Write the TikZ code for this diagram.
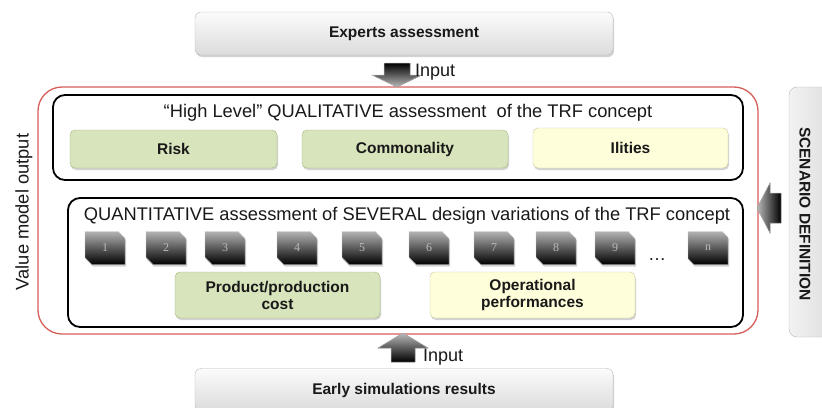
\documentclass[tikz,border=0pt]{standalone}
\usepackage{fontspec}
\setmainfont{Liberation Sans}
\newfontfamily\numfont{Liberation Serif}
\usetikzlibrary{shapes.misc,shadows}

\definecolor{redline}{RGB}{215,95,90}
\definecolor{greenfill}{RGB}{215,228,188}
\definecolor{greenline}{RGB}{165,185,125}
\definecolor{yellowfill}{RGB}{255,254,218}
\definecolor{yellowline}{RGB}{200,200,160}
\definecolor{txt}{RGB}{25,25,25}

\tikzset{
  softshadow/.style={drop shadow={opacity=0.35, shadow xshift=1pt, shadow yshift=-2pt}},
  greybox/.style={rectangle, rounded corners=6pt, draw=gray!55, top color=gray!3,
    bottom color=gray!28, inner sep=0pt, text=txt, softshadow,
    font=\bfseries\fontsize{15.5}{17}\selectfont},
  greenbox/.style={rectangle, rounded corners=5pt, draw=greenline, fill=greenfill,
    inner sep=0pt, text=txt, softshadow, align=center,
    font=\bfseries\fontsize{15.5}{17}\selectfont},
  yellowbox/.style={greenbox, draw=yellowline, fill=yellowfill},
  framebox/.style={rectangle, rounded corners=12pt, draw=black, line width=1.8pt},
  title/.style={text=txt, inner sep=0pt, font=\fontsize{18.3}{20}\selectfont},
  variant/.style={chamfered rectangle, chamfered rectangle corners={north east, south west},
    chamfered rectangle xsep=6pt, chamfered rectangle ysep=6pt,
    minimum width=40pt, minimum height=33pt, inner sep=0pt,
    draw=gray!45, top color=gray!60, bottom color=black, text=gray!55,
    softshadow, font=\numfont\fontsize{12}{13}\selectfont},
  blockarrow/.style={draw=gray!60, line width=0.5pt},
}

\begin{document}
\begin{tikzpicture}[x=1pt,y=-1pt]
  \clip (0,0) rectangle (822,407);
  \fill[white] (0,0) rectangle (822,407);

  % sources of input
  \node[greybox, minimum width=418pt, minimum height=43pt] (experts) at (404,33.5) {Experts assessment};
  \node[greybox, minimum width=418pt, minimum height=43pt] (early) at (404,390) {Early simulations results};

  % scenario definition side bar
  \node[rectangle, rounded corners=8pt, draw=gray!55, left color=gray!10, right color=gray!32,
        minimum width=60pt, minimum height=250pt, inner sep=0pt] (scenario) at (819,212) {};
  \node[rotate=-90, text=txt, font=\bfseries\fontsize{15.5}{17}\selectfont] (scenlabel) at (805,214) {SCENARIO DEFINITION};

  % value model frame
  \node[rectangle, rounded corners=24pt, draw=redline, line width=1.3pt,
        minimum width=720pt, minimum height=247pt, inner sep=0pt] (valuemodel) at (398,210.5) {};
  \node[rotate=90, title] (vmlabel) at (24,212) {Value model output};

  % qualitative assessment
  \node[framebox, minimum width=690pt, minimum height=85pt] (quali) at (398,137.5) {};
  \node[title] (qualititle) at (408,113) {“High Level” QUALITATIVE assessment\ \ of the TRF concept};
  \node[greenbox, minimum width=207pt, minimum height=38pt] (risk) at (173.5,149) {Risk};
  \node[greenbox, minimum width=206pt, minimum height=38pt] (common) at (405,149) {Commonality};
  \node[yellowbox, minimum width=195pt, minimum height=40pt] (ilities) at (630.5,148) {Ilities};

  % quantitative assessment
  \node[framebox, minimum width=675pt, minimum height=129pt] (quanti) at (405.5,262.5) {};
  \node[title] (quantititle) at (407,216) {QUANTITATIVE assessment of SEVERAL design variations of the TRF concept};
  \foreach \cx/\lbl in {105/1,166/2,225/3,297/4,362/5,429/6,494/7,556/8,615/9,708/n}
    \node[variant] (var-\lbl) at (\cx,248) {\lbl};
  \node[anchor=base, text=txt, inner sep=0pt, font=\fontsize{18}{20}\selectfont] (dots) at (657,260) {…};
  \node[greenbox, minimum width=205pt, minimum height=46pt] (cost) at (277.5,295) {Product/production\\cost};
  \node[yellowbox, minimum width=205pt, minimum height=46pt] (perf) at (532.5,295) {Operational\\performances};

  % input arrows
  \coordinate (intop) at (397,87);
  \filldraw[blockarrow, top color=black, bottom color=gray!55]
    (384,63) -- (410,63) -- (410,75) -- (422,75) -- (intop) -- (372,75) -- (384,75) -- cycle;
  \node[anchor=west, title, font=\fontsize{18}{20}\selectfont] (inputtop) at (415,72) {Input};

  \coordinate (inbottom) at (403,333);
  \filldraw[blockarrow, top color=gray!55, bottom color=black]
    (inbottom) -- (428,348) -- (415,348) -- (415,362) -- (391,362) -- (391,348) -- (378,348) -- cycle;
  \node[anchor=west, title, font=\fontsize{18}{20}\selectfont] (inputbottom) at (423,357) {Input};

  \coordinate (inside) at (757,208);
  \filldraw[blockarrow, left color=gray!55, right color=black]
    (inside) -- (770,183) -- (770,193) -- (781,193) -- (781,223) -- (770,223) -- (770,233) -- cycle;
\end{tikzpicture}
\end{document}
